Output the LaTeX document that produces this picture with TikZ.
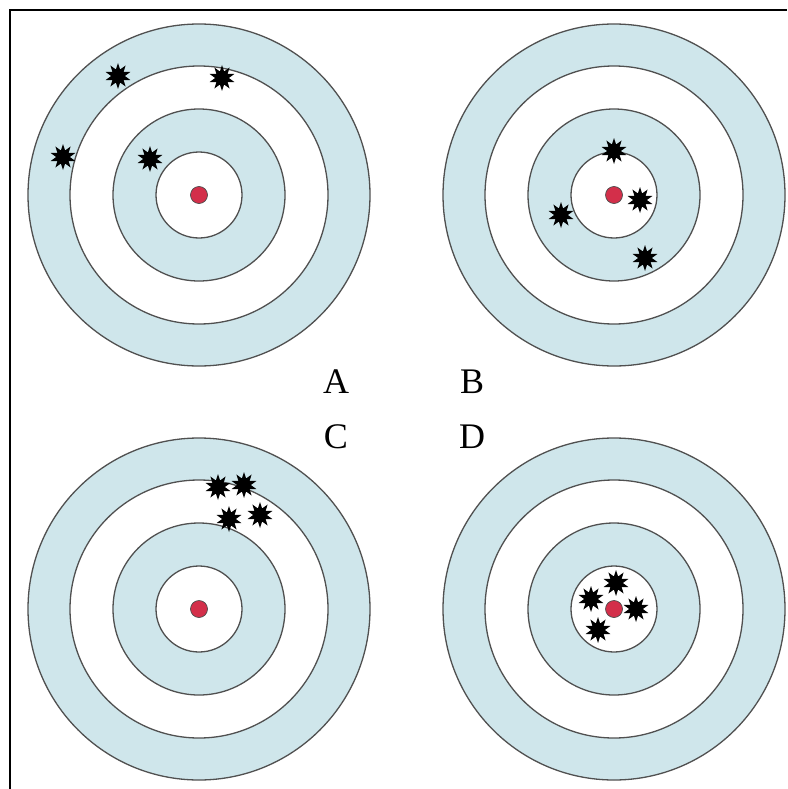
\documentclass[tikz,border=0pt]{standalone}
\usepackage{fontspec}
\setmainfont{Liberation Serif}
\usetikzlibrary{shapes.geometric}

\definecolor{ringblue}{HTML}{CFE6EB}
\definecolor{ringline}{HTML}{505050}
\definecolor{bullred}{HTML}{D32F4A}

\begin{document}
\begin{tikzpicture}[
    x=1pt, y=-1pt,
    % Define common styles
        ring/.style={draw=ringline, line width=1.3pt},
        bull/.style={circle, draw=black!70, fill=bullred, line width=0.7pt, minimum size=17pt, inner sep=0pt},
        hit/.style={star, star points=10, star point ratio=1.9, fill=black, draw=none, minimum size=26pt, inner sep=0pt},
        letter/.style={font=\fontsize{36}{40}\selectfont, inner sep=0pt}
    ]

        \useasboundingbox (0,0) rectangle (787,789);

        % Frame lines
        \draw[line width=1.2pt] (10,789) -- (10,10) -- (787,10);

        % Targets
        \foreach \name/\cx/\cy in {ta/199/195, tb/614/195, tc/199/609, td/614/609} {
            \coordinate (\name) at (\cx,\cy);
            \draw[ring, fill=ringblue] (\name) circle[radius=171];
            \draw[ring, fill=white] (\name) circle[radius=129];
            \draw[ring, fill=ringblue] (\name) circle[radius=86];
            \draw[ring, fill=white] (\name) circle[radius=43];
            \node[bull] (\name-bull) at (\name) {};
        }

        % Hits on target A
        \node[hit] (a1) at (118,76) {};
        \node[hit] (a2) at (222,78) {};
        \node[hit] (a3) at (63,157) {};
        \node[hit] (a4) at (150,159) {};

        % Hits on target B
        \node[hit] (b1) at (614,151) {};
        \node[hit] (b2) at (640,200) {};
        \node[hit] (b3) at (561,215) {};
        \node[hit] (b4) at (645,258) {};

        % Hits on target C
        \node[hit] (c1) at (218,487) {};
        \node[hit] (c2) at (244,485) {};
        \node[hit] (c3) at (229,519) {};
        \node[hit] (c4) at (260,515) {};

        % Hits on target D
        \node[hit] (d1) at (616,583) {};
        \node[hit] (d2) at (591,599) {};
        \node[hit] (d3) at (636,609) {};
        \node[hit] (d4) at (598,630) {};

        % Labels
        \node[letter] (labA) at (336,382) {A};
        \node[letter] (labB) at (472,382) {B};
        \node[letter] (labC) at (336,437) {C};
        \node[letter] (labD) at (472,437) {D};

    \end{tikzpicture}
\end{document}
